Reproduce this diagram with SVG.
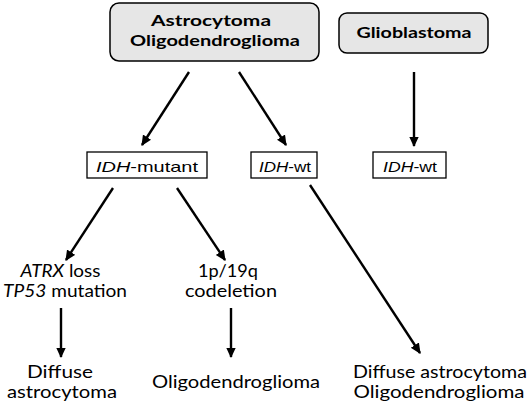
<svg xmlns="http://www.w3.org/2000/svg" width="529" height="404" viewBox="0 0 529 404">
<style>
.bg{fill:#fff}
.gbox{fill:#e6e6e6;stroke:#000;stroke-width:1.5}
.wbox{fill:#fff;stroke:#000;stroke-width:1.3}
.bt{font-family:Lato,"Open Sans",sans-serif;font-weight:bold;font-size:16px;text-anchor:middle;fill:#000}
.it{font-family:"Liberation Sans",Arial,sans-serif;font-size:15px;text-anchor:middle;fill:#000}
.t{font-family:Lato,"Open Sans",sans-serif;font-size:16.5px;text-anchor:middle;fill:#000}
.i{font-style:italic}
.c{stroke:#000;stroke-width:2.4;fill:none;marker-end:url(#ah)}
</style>
<defs>
<marker id="ah" markerWidth="11" markerHeight="11" refX="8.5" refY="5" orient="auto" markerUnits="userSpaceOnUse" viewBox="0 0 10 10">
<path d="M0,0.6 L9.5,5 L0,9.4 z" fill="#000"/>
</marker>
</defs>
<rect class="bg" width="529" height="404"/>
<g id="connectors">
<line class="c" x1="189" y1="72" x2="142" y2="145"/>
<line class="c" x1="239" y1="72" x2="286" y2="145"/>
<line class="c" x1="414" y1="72" x2="414" y2="146"/>
<line class="c" x1="113" y1="188" x2="66" y2="260"/>
<line class="c" x1="177" y1="188" x2="225" y2="260"/>
<line class="c" x1="310" y1="185" x2="420" y2="353"/>
<line class="c" x1="61" y1="308" x2="61" y2="357"/>
<line class="c" x1="231" y1="308" x2="231" y2="357"/>
</g>
<g id="n-astro-oligo">
<rect class="gbox" x="110" y="3" width="209" height="58" rx="9"/>
<text class="bt" x="211" y="26" textLength="120" lengthAdjust="spacingAndGlyphs">Astrocytoma</text>
<text class="bt" x="215" y="45.5" textLength="170" lengthAdjust="spacingAndGlyphs">Oligodendroglioma</text>
</g>
<g id="n-glioblastoma">
<rect class="gbox" x="339" y="13" width="149" height="40" rx="8"/>
<text class="bt" x="414" y="38" textLength="115" lengthAdjust="spacingAndGlyphs">Glioblastoma</text>
</g>
<g id="n-idh-mutant">
<rect class="wbox" x="87" y="152" width="120" height="26"/>
<text class="it" x="147" y="172" textLength="102" lengthAdjust="spacingAndGlyphs"><tspan class="i">IDH</tspan>-mutant</text>
</g>
<g id="n-idh-wt-1">
<rect class="wbox" x="251" y="152" width="66" height="26"/>
<text class="it" x="285" y="172" textLength="52" lengthAdjust="spacingAndGlyphs"><tspan class="i">IDH</tspan>-wt</text>
</g>
<g id="n-idh-wt-2">
<rect class="wbox" x="373" y="152" width="73" height="26"/>
<text class="it" x="410" y="172" textLength="54" lengthAdjust="spacingAndGlyphs"><tspan class="i">IDH</tspan>-wt</text>
</g>
<g id="n-atrx-tp53">
<text class="t" x="60.5" y="277" textLength="80" lengthAdjust="spacingAndGlyphs"><tspan class="i">ATRX</tspan> loss</text>
<text class="t" x="65" y="297" textLength="124" lengthAdjust="spacingAndGlyphs"><tspan class="i">TP53</tspan> mutation</text>
</g>
<g id="n-codeletion">
<text class="t" x="228" y="277" textLength="60" lengthAdjust="spacingAndGlyphs">1p/19q</text>
<text class="t" x="231" y="297" textLength="92" lengthAdjust="spacingAndGlyphs">codeletion</text>
</g>
<g id="n-diffuse-astro">
<text class="t" x="60" y="378" textLength="66" lengthAdjust="spacingAndGlyphs">Diffuse</text>
<text class="t" x="62" y="398" textLength="110" lengthAdjust="spacingAndGlyphs">astrocytoma</text>
</g>
<g id="n-oligo">
<text class="t" x="236" y="388" textLength="168" lengthAdjust="spacingAndGlyphs">Oligodendroglioma</text>
</g>
<g id="n-diffuse-oligo">
<text class="t" x="440" y="378" textLength="174" lengthAdjust="spacingAndGlyphs">Diffuse astrocytoma</text>
<text class="t" x="439" y="398" textLength="171" lengthAdjust="spacingAndGlyphs">Oligodendroglioma</text>
</g>
</svg>
